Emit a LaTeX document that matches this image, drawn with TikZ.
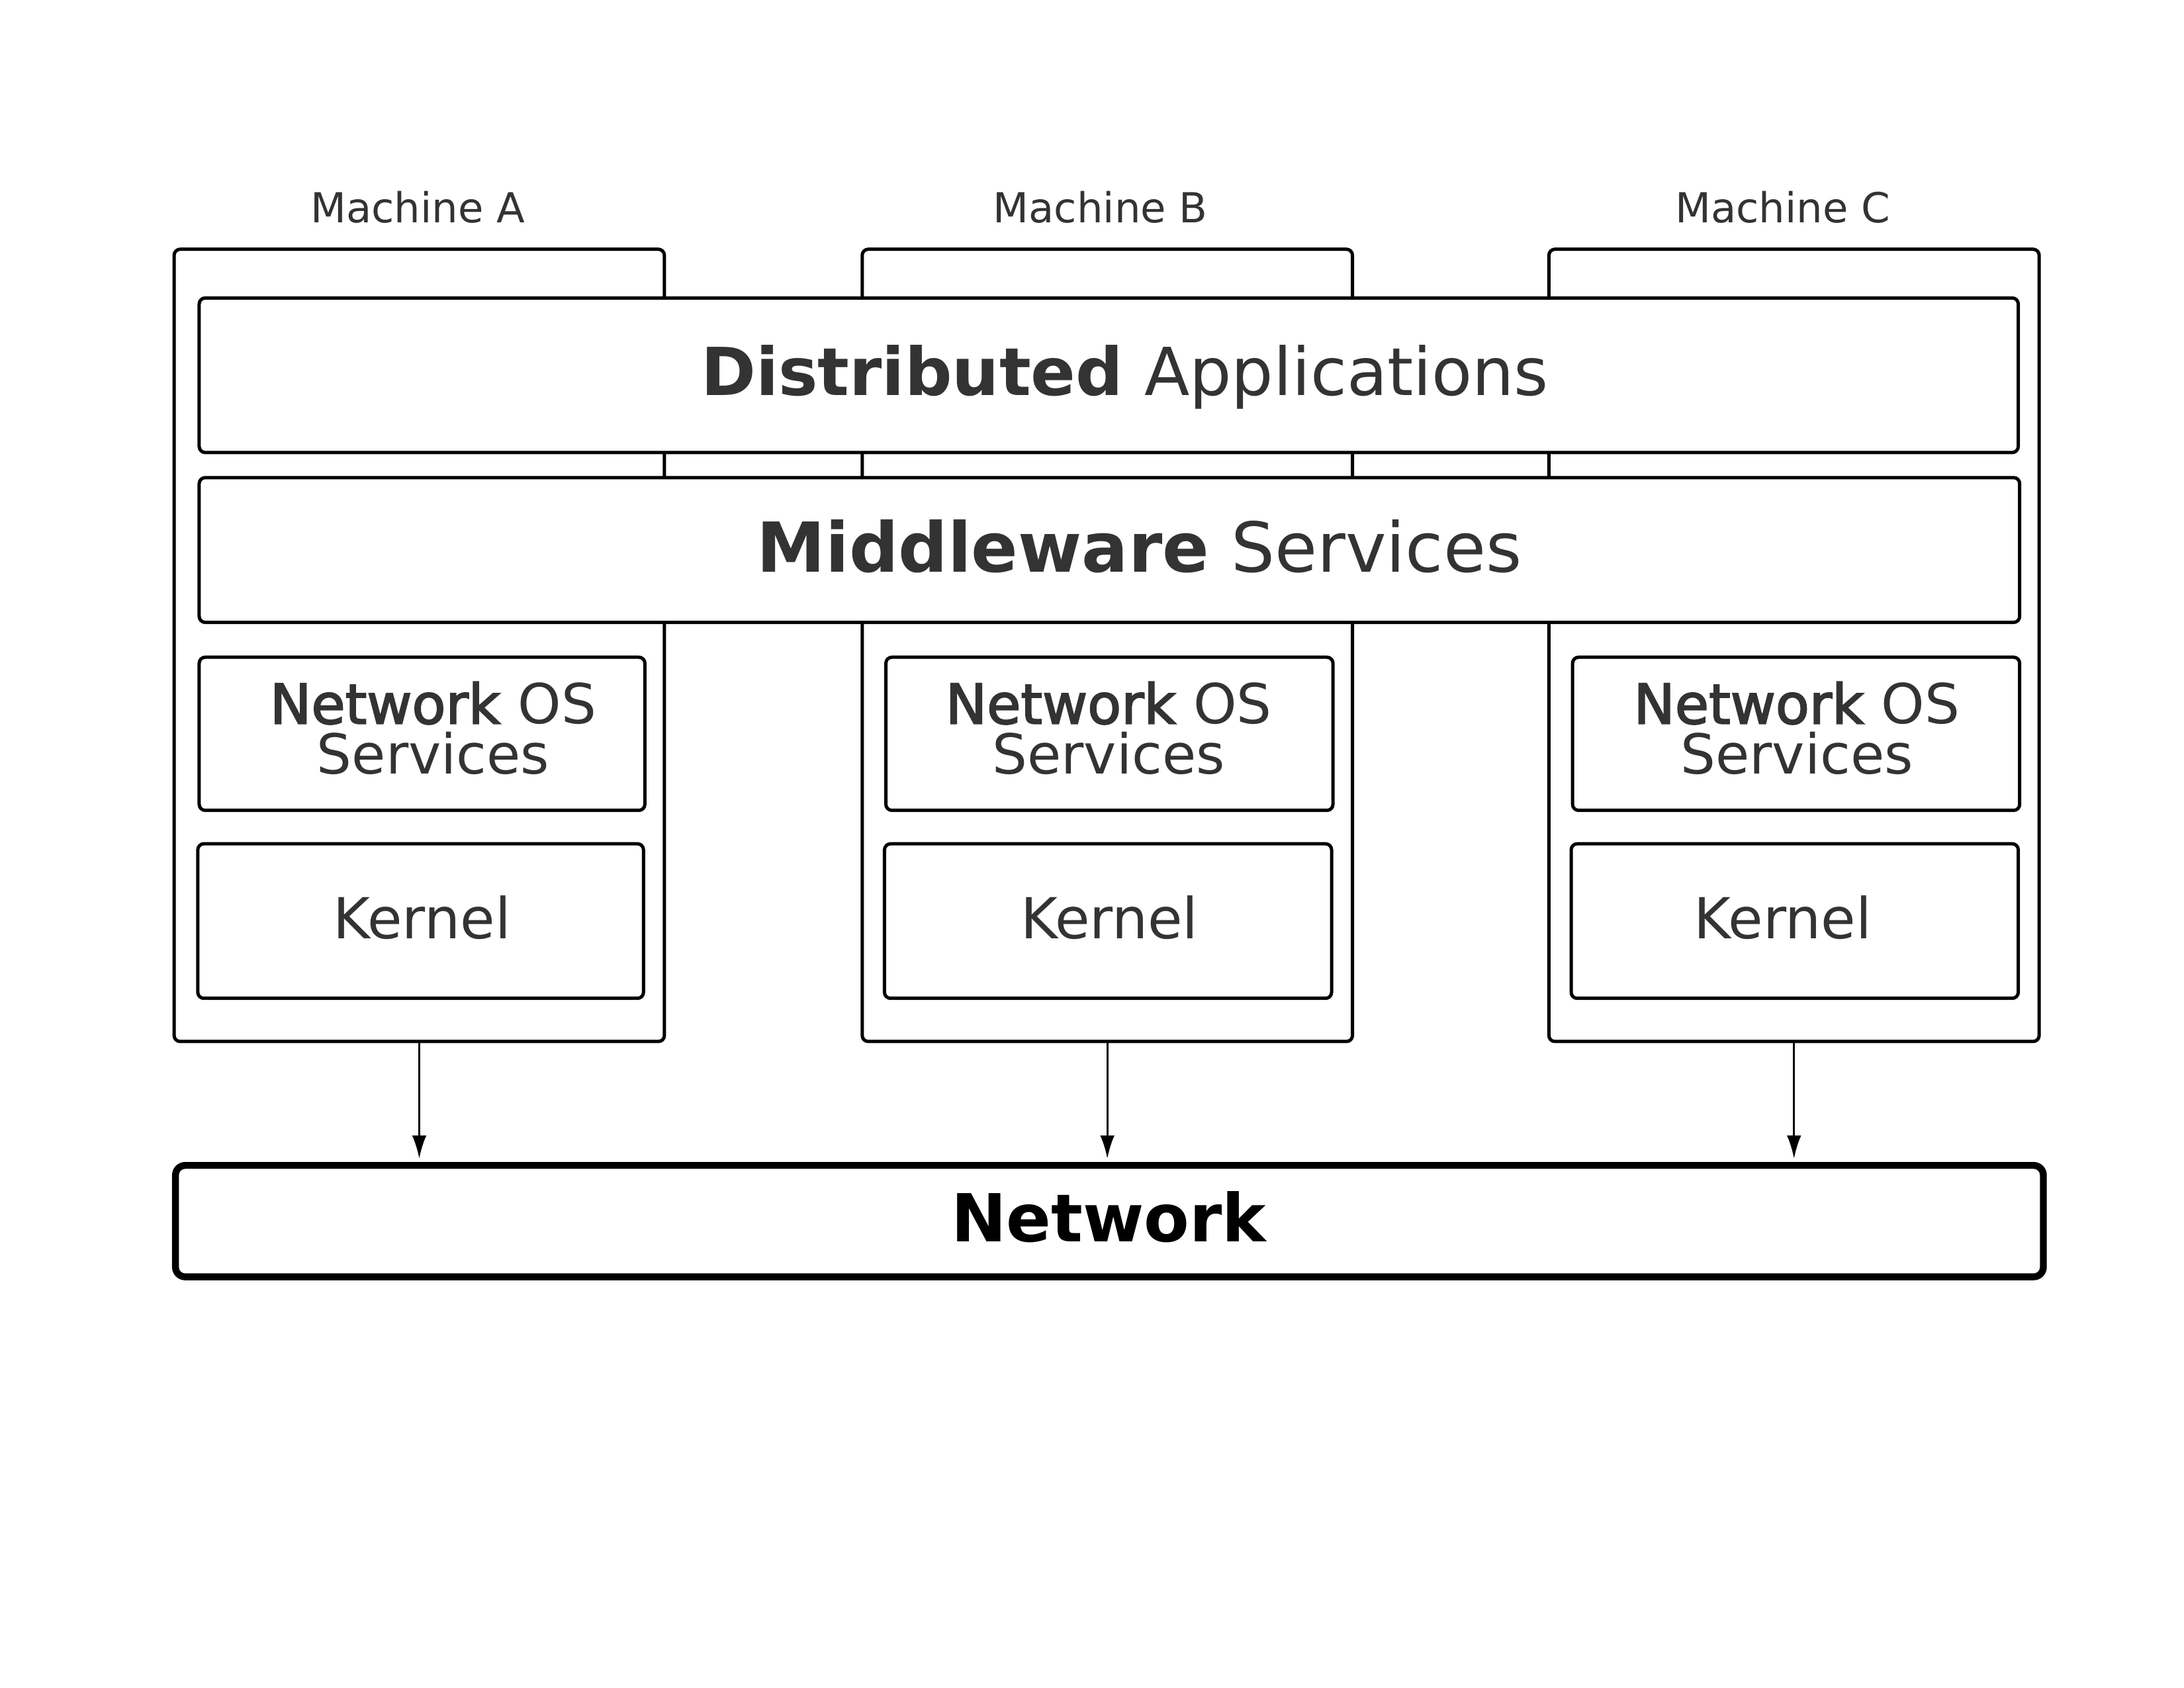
\documentclass[tikz,border=0pt]{standalone}
\usepackage{fontspec}
\setmainfont{DejaVu Sans}
\newfontfamily\semibfont[FakeBold=2.5]{DejaVu Sans}
\usetikzlibrary{fit,arrows.meta}
\definecolor{txt}{HTML}{333333}
\begin{document}
\begin{tikzpicture}[x=0.5051pt,y=-0.5050pt,
  box/.style={draw=black, line width=1.2pt, rounded corners=2.2pt, fill=white, inner sep=0pt},
  netbox/.style={draw=black, line width=2.5pt, rounded corners=3.5pt, fill=white, inner sep=0pt},
  lbl/.style={text=txt, inner sep=0pt, align=center},
  arr/.style={draw=black, line width=0.8pt, shorten >=1.2pt, -{Latex[length=8.4pt,width=5.2pt]}}]
\useasboundingbox (0,0) rectangle (1568,1212);
\fill[white] (0,0) rectangle (1568,1212);
% machines
\node[box, fit={(125,179) (477,748)}] (ma) {};
\node[box, fit={(619,179) (971,748)}] (mb) {};
\node[box, fit={(1112,179) (1464,748)}] (mc) {};
% shared layers
\node[box, fit={(143,214) (1449,325)}] (da) {};
\node[box, fit={(143,343) (1450,447)}] (mw) {};
% per machine
\node[box, fit={(143,472) (463,582)}] (nA) {};
\node[box, fit={(636,472) (957,582)}] (nB) {};
\node[box, fit={(1129,472) (1450,582)}] (nC) {};
\node[box, fit={(142,606) (462,717)}] (kA) {};
\node[box, fit={(635,606) (956,717)}] (kB) {};
\node[box, fit={(1128,606) (1449,717)}] (kC) {};
% network
\node[netbox, fit={(126,837) (1467,917)}] (net) {};
% labels
\node[lbl, anchor=base, font=\fontsize{15pt}{18pt}\selectfont] (tA) at (300,160) {Machine A};
\node[lbl, anchor=base, font=\fontsize{15pt}{18pt}\selectfont] (tB) at (790,160) {Machine B};
\node[lbl, anchor=base, font=\fontsize{15pt}{18pt}\selectfont] (tC) at (1280,160) {Machine C};
\node[lbl, anchor=base, font=\fontsize{24pt}{28pt}\selectfont] (tda) at (807.5,284) {\textbf{Distributed} Applications};
\node[lbl, anchor=base, font=\fontsize{25pt}{29pt}\selectfont] (tmw) at (818,411) {\textbf{Middleware} Services};
\node[lbl, font=\fontsize{20pt}{18.2pt}\selectfont] (tnA) at (311,523) {{\semibfont Network} OS\\Services};
\node[lbl, font=\fontsize{20pt}{18.2pt}\selectfont] (tnB) at (796,523) {{\semibfont Network} OS\\Services};
\node[lbl, font=\fontsize{20pt}{18.2pt}\selectfont] (tnC) at (1290,523) {{\semibfont Network} OS\\Services};
\node[lbl, anchor=base, font=\fontsize{20.5pt}{24pt}\selectfont] (tkA) at (303,674) {Kernel};
\node[lbl, anchor=base, font=\fontsize{20.5pt}{24pt}\selectfont] (tkB) at (796.5,674) {Kernel};
\node[lbl, anchor=base, font=\fontsize{20.5pt}{24pt}\selectfont] (tkC) at (1280,674) {Kernel};
\node[lbl, text=black, anchor=base, font=\bfseries\fontsize{24pt}{28pt}\selectfont] (tnet) at (796,892) {Network};
% arrows
\draw[arr] (ma.south) -- (ma.south |- net.north);
\draw[arr] (mb.south) -- (mb.south |- net.north);
\draw[arr] (mc.south) -- (mc.south |- net.north);
\end{tikzpicture}
\end{document}
